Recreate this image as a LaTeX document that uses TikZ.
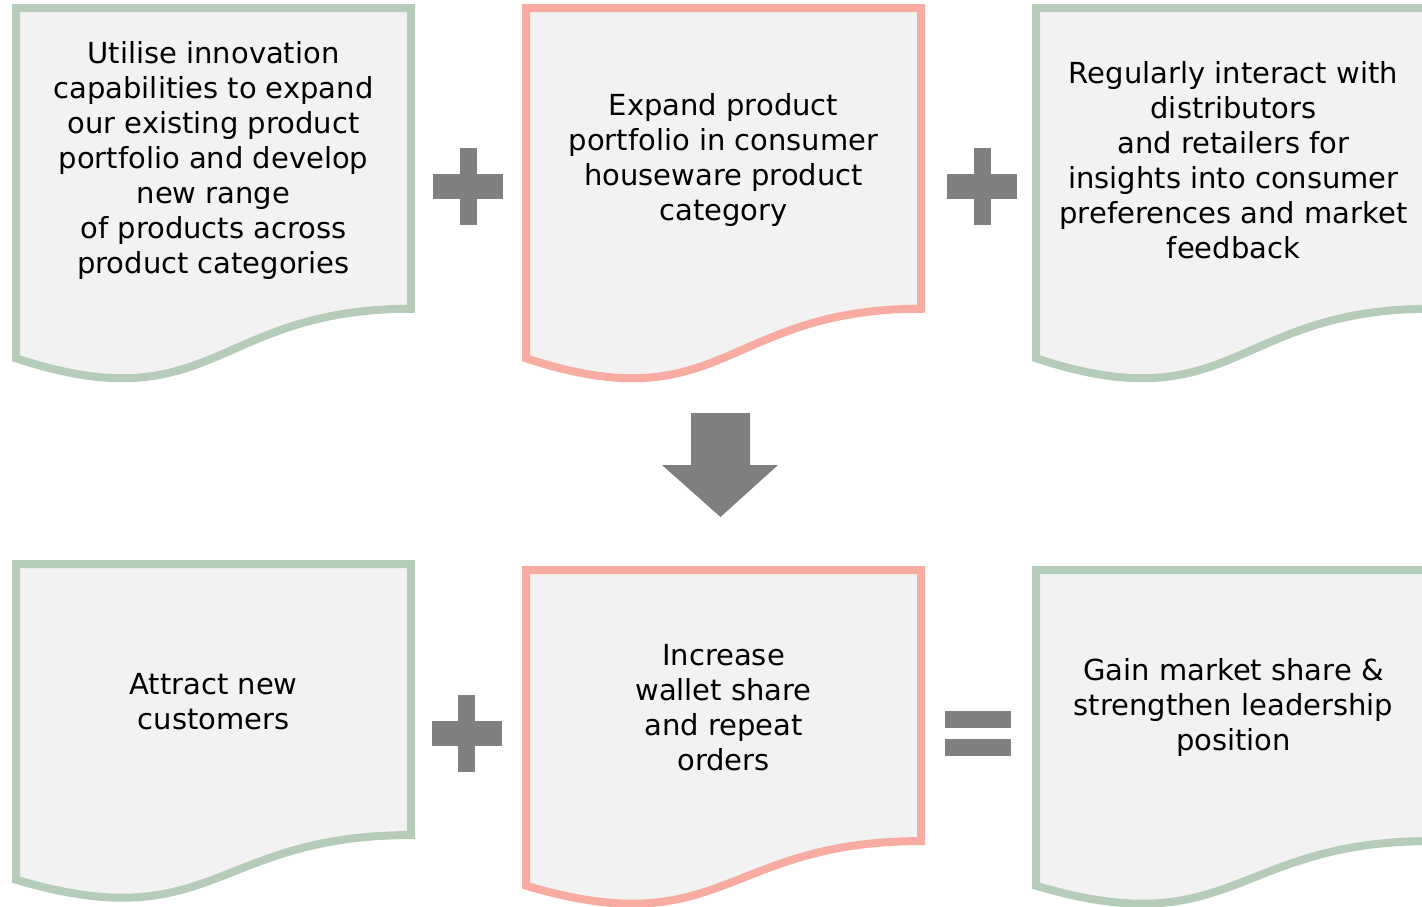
\documentclass[tikz,border=0pt]{standalone}
\usepackage{fontspec}
\setmainfont{DejaVu Sans}
\definecolor{docgreen}{RGB}{181,204,184}
\definecolor{docred}{RGB}{248,171,160}
\definecolor{docfill}{RGB}{242,242,242}
\definecolor{signgray}{RGB}{127,127,127}
\tikzset{
  doc/.style={line width=8pt,fill=docfill},
  lbl/.style={align=center,font=\fontsize{29}{35}\selectfont,inner sep=0pt,yshift=-2pt},
  sign/.style={fill=signgray},
}
% document shape with wavy bottom: #1 name, #2 left, #3 top, #4 height, #5 colour, #6 text
\newcommand{\docbox}[6]{%
  \draw[doc,draw=#5] (#2,#3) -- ({#2+395},#3) -- ({#2+395},{#3+0.802*#4})
    .. controls ({#2+197.5},{#3+0.802*#4}) and ({#2+197.5},{#3+1.1075*#4})
    .. (#2,{#3+0.934*#4}) -- cycle;
  \node[lbl] (#1) at ({#2+197.5},{#3+0.401*#4}) {#6};
}
% plus sign centred at (#1,#2)
\newcommand{\plussign}[2]{%
  \fill[sign] ({#1-35},{#2-12.5}) rectangle ({#1+35},{#2+12.5});
  \fill[sign] ({#1-8.5},{#2-38.5}) rectangle ({#1+8.5},{#2+38.5});
}
\begin{document}
\begin{tikzpicture}[x=1pt,y=-1pt]
\useasboundingbox (0,0) rectangle (1422,906);

\docbox{innov}{16}{8}{375}{docgreen}{Utilise innovation\\capabilities to expand\\our existing product\\portfolio and develop\\new range\\of products across\\product categories}
\docbox{portf}{526}{8}{375}{docred}{Expand product\\portfolio in consumer\\houseware product\\category}
\docbox{insight}{1036}{8}{375}{docgreen}{Regularly interact with\\distributors\\and retailers for\\insights into consumer\\preferences and market\\feedback}

\docbox{attract}{16}{564}{338}{docgreen}{Attract new\\customers}
\docbox{wallet}{526}{570}{338}{docred}{Increase\\wallet share\\and repeat\\orders}
\docbox{gain}{1036}{570}{338}{docgreen}{Gain market share \&\\strengthen leadership\\position}

\plussign{468}{186.5}
\plussign{982}{186.5}
\plussign{466.5}{733}

% equals
\fill[sign] (945,710.5) rectangle (1011,728);
\fill[sign] (945,738.5) rectangle (1011,756);

% down arrow
\fill[sign] (691,413) -- (750,413) -- (750,465) -- (778,465) -- (720.5,517)
  -- (662,465) -- (691,465) -- cycle;
\end{tikzpicture}
\end{document}
